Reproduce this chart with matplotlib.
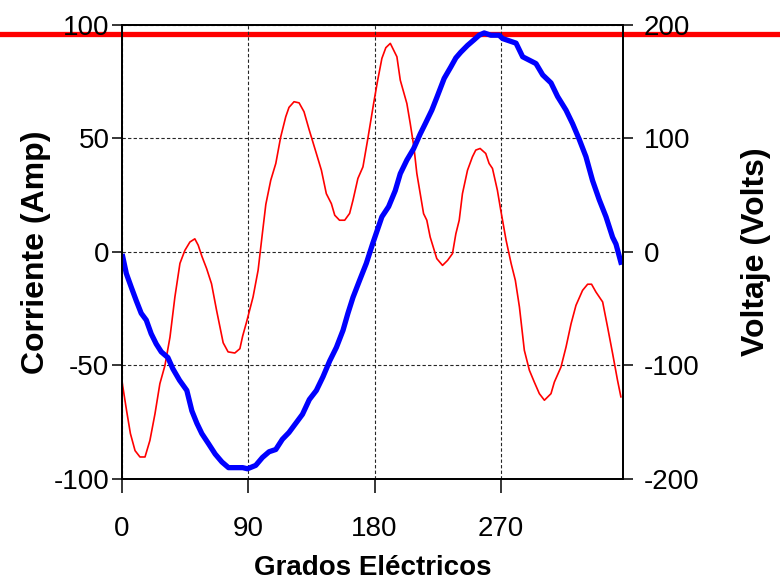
import matplotlib
matplotlib.use("Agg")
import matplotlib.pyplot as plt

plt.rcParams['font.family'] = ['Liberation Sans', 'DejaVu Sans']
plt.rcParams['axes.unicode_minus'] = False

# corriente (A), grados electricos
grados_i = [0, 3.3, 6, 9.3, 12.8, 16.4, 19.9, 23.5, 27, 30.6, 34.2, 37.7, 41.3, 44.8,
            48.4, 51.9, 54.3, 57, 60.3, 63.8, 67.4, 72.1, 75.6, 80.4, 84, 86, 88.7,
            93.4, 97, 100, 102.5, 106, 109.6, 113.1, 116.7, 119, 122.6, 126.2, 129.7,
            133.3, 138.5, 142.1, 145.6, 149.2, 151.6, 155, 158.7, 162.2, 164.6, 168.1,
            171.7, 175.2, 179.3, 182, 185.2, 188, 191.2, 195.9, 198.3, 203, 205.4, 208,
            210.1, 214.9, 217.2, 219.6, 224.3, 228.4, 232, 235.5, 237.9, 240.3, 242.6,
            246.2, 249.7, 252.1, 255.2, 259.2, 261.6, 264, 267.5, 269.9, 273.7, 277.3,
            280.3, 283.2, 286.7, 290.3, 293.8, 297.4, 301, 305.7, 308.1, 312.8, 316.4,
            320, 323.5, 328.2, 331.8, 334.6, 337.7, 342.5, 346, 349.6, 353.1, 355.5]
corriente = [-57, -70, -80, -87.5, -90.3, -90.3, -83, -71.3, -58, -50, -37.5, -19.8, -5, 0.7,
             4.4, 5.8, 3, -2, -7.3, -14, -25.7, -40, -44, -44.5, -42.6, -37, -31,
             -19.8, -8, 8, 21, 31.6, 39, 50.7, 59.6, 63.7, 66.2, 65.7, 61.8,
             54, 43.4, 36, 25.7, 21.3, 16.2, 14, 14, 17, 22.8, 32.4,
             37.5, 50, 65.4, 75, 85.3, 90, 91.9, 86, 75.7, 65.4, 56.6, 46.3,
             34.6, 16.9, 14, 6.6, -2.9, -5.9, -3.7, -0.7, 8, 14, 25.7,
             36, 41.9, 44.9, 45.6, 43.4, 39, 36.8, 27.2, 18.4, 5.2, -5.1,
             -12.5, -24.2, -43.3, -52.1, -57.3, -62.4, -65.3, -62.4, -57.3, -50.7, -41.9,
             -31.6, -23.5, -16.9, -14.2, -14.2, -17.6, -22, -33, -44.7, -56.5, -63.8]

# voltaje (V)
grados_v = [0.5, 3.1, 6.6, 10.2, 13.7, 17.3, 20.8, 24.4, 28, 32.7, 36.3, 41, 46.2, 49.8,
            53.4, 56.9, 61.7, 66.4, 71.2, 75.9, 81.8, 86, 89.4, 95.3, 100.1, 104.8,
            109.6, 114.3, 119, 123.8, 128.6, 133.5, 138.5, 143.2, 148, 152.8, 157.5,
            161, 164.6, 169.3, 174.1, 178.8, 185.2, 190, 194.7, 198.3, 203, 207.8,
            212.5, 216.1, 220.8, 224.3, 229.6, 234.3, 237.9, 241.4, 246.2, 250.9, 254.5,
            258.1, 262.8, 268.7, 271.3, 280.8, 285.5, 295, 299.8, 305.7, 310.4, 316.4,
            321.1, 325.9, 330.6, 335.3, 340.1, 344.9, 349.6, 352, 355.5]
voltaje = [-4, -19, -31, -43, -54, -60, -72, -81, -88, -93, -103, -113, -122, -140,
           -151, -160, -169, -178, -185, -190, -190, -190, -191, -188, -181, -176,
           -174, -165, -159, -151, -143, -130, -122, -110, -96, -84, -69,
           -54, -40, -25, -10, 8, 31, 40, 54, 69, 81, 91,
           104, 113, 125, 136, 153, 163, 171, 176, 182, 187, 191,
           193, 191, 191, 188, 184, 172, 166, 156, 149, 137, 125,
           113, 99, 84, 63, 46, 31, 13, 7, -9]

nivel_pico = 96  # linea roja gruesa, escala de corriente

fig = plt.figure(figsize=(7.8, 5.84), dpi=100)
ax = fig.add_axes([0.1564, 0.1798, 0.6423, 0.7774])
ax2 = ax.twinx()

ax.axhline(nivel_pico, xmin=-0.3, xmax=1.4, color='#ff0000', lw=3.8, clip_on=False, zorder=1)
ax.plot(grados_i, corriente, color='#ff0000', lw=1.2, zorder=2)
ax2.plot(grados_v, voltaje, color='#0000ff', lw=3.8, solid_joinstyle='round')

ax.set_xlim(0, 357)
ax.set_ylim(-100, 100)
ax2.set_ylim(-200, 200)
ax.set_xticks([0, 90, 180, 270])
ax.set_yticks([-100, -50, 0, 50, 100])
ax2.set_yticks([-200, -100, 0, 100, 200])

ax.grid(True, color='0.15', linestyle=(0, (3, 2)), lw=0.8)
for a in (ax, ax2):
    for s in a.spines.values():
        s.set_linewidth(1.3)
        s.set_color('black')
    a.tick_params(labelsize=20, length=7, width=1.1, direction='out', pad=2)
ax.tick_params(axis='x', length=10, pad=17)
ax2.tick_params(axis='y', pad=8)

ax.set_xlabel('Grados Eléctricos', fontsize=20, fontweight='bold', labelpad=9)
ax.set_ylabel('Corriente (Amp)', fontsize=23, fontweight='bold', labelpad=2)
ax2.set_ylabel('Voltaje (Volts)', fontsize=23, fontweight='bold', labelpad=30)

fig.savefig('out.png', dpi=100)
